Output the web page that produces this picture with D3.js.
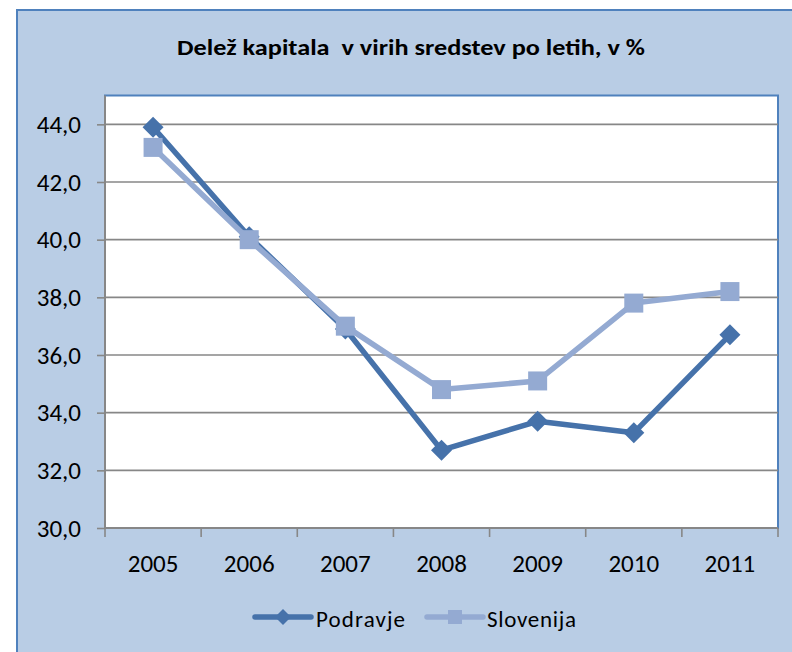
<!DOCTYPE html>
<html>
<head>
<meta charset="utf-8">
<script src="https://cdn.jsdelivr.net/npm/d3@7"></script>
<style>
html,body{margin:0;padding:0;background:#fff;}
svg{display:block;}
text{font-family:Carlito,Lato,"Open Sans",sans-serif;}
</style>
</head>
<body>
<svg id="chart" width="792" height="652"></svg>
<script>
const title = "Delež kapitala  v virih sredstev po letih, v %";
const years = ["2005","2006","2007","2008","2009","2010","2011"];
const podravje = [43.9, 40.1, 36.9, 32.7, 33.7, 33.3, 36.7];
const slovenija = [43.2, 40.0, 37.0, 34.8, 35.1, 37.8, 38.2];
const yTicks = [30, 32, 34, 36, 38, 40, 42, 44];
const seriesNames = ["Podravje", "Slovenija"];

const svg = d3.select("#chart");
const W = 792, H = 652;
const colP = "#4672aa", colS = "#94aad2", gridCol = "#878787", borderCol = "#4f81bd";
const FF = "Carlito,Lato,'Open Sans',sans-serif";

// outer chart area
svg.append("rect").attr("x", 17).attr("y", 10).attr("width", W).attr("height", H)
  .attr("fill", "#b9cde5").attr("stroke", borderCol).attr("stroke-width", 2);

svg.append("text").attr("x", 411).attr("y", 55).attr("text-anchor", "middle")
  .attr("font-size", 23).attr("font-weight", "bold").attr("fill", "#000")
  .attr("textLength", 468).attr("lengthAdjust", "spacingAndGlyphs")
  .style("white-space", "pre").text(title);

const L = 105, R = 778, T = 95.5, B = 528;
const x = d3.scaleBand().domain(years).range([L, R]).padding(0);
const y = d3.scaleLinear().domain([30, 45]).range([B, T]);

// plot area
svg.append("rect").attr("x", L).attr("y", T).attr("width", R - L).attr("height", B - T)
  .attr("fill", "#fff").attr("stroke", borderCol).attr("stroke-width", 2);

// gridlines
svg.append("g").selectAll("line").data(yTicks.filter(d => d > 30)).join("line")
  .attr("x1", L).attr("x2", R).attr("y1", d => y(d)).attr("y2", d => y(d))
  .attr("stroke", gridCol).attr("stroke-width", 1.6);

// y axis
const yAxis = svg.append("g").attr("transform", `translate(${L},0)`)
  .call(d3.axisLeft(y).tickValues(yTicks).tickSize(8).tickPadding(16)
    .tickFormat(d => d3.format(".1f")(d).replace(".", ",")));
yAxis.select(".domain").attr("stroke", gridCol).attr("stroke-width", 2).attr("d", `M-0,${T}V${B}`);
yAxis.selectAll(".tick line").attr("stroke", gridCol).attr("stroke-width", 1.6);
yAxis.selectAll(".tick text").attr("font-size", 25).attr("fill", "#000").style("font-family", FF);

// x axis
const xAxis = svg.append("g").attr("transform", `translate(0,${B})`)
  .call(d3.axisBottom(x).tickSize(0).tickPadding(26));
xAxis.select(".domain").attr("stroke", gridCol).attr("stroke-width", 2).attr("d", `M${L},0H${R}`);
xAxis.selectAll(".tick text").attr("font-size", 25).attr("fill", "#000").style("font-family", FF)
  .attr("y", 44).attr("dy", 0);
const bounds = years.map(d => x(d)).concat([R]);
xAxis.append("g").selectAll("line").data(bounds).join("line")
  .attr("x1", d => d).attr("x2", d => d).attr("y1", 0).attr("y2", 9)
  .attr("stroke", gridCol).attr("stroke-width", 1.6);

const cx = d => x(d) + x.bandwidth() / 2;
const line = d3.line().x((d, i) => cx(years[i])).y(d => y(d));

const diamond = s => `M0,${-s}L${s},0L0,${s}L${-s},0Z`;

// Podravje
svg.append("path").datum(podravje).attr("d", line).attr("fill", "none")
  .attr("stroke", colP).attr("stroke-width", 5.5).attr("stroke-linejoin", "round");
svg.append("g").selectAll("path").data(podravje).join("path")
  .attr("transform", (d, i) => `translate(${cx(years[i])},${y(d)})`)
  .attr("d", diamond(10.5)).attr("fill", colP);

// Slovenija
svg.append("path").datum(slovenija).attr("d", line).attr("fill", "none")
  .attr("stroke", colS).attr("stroke-width", 5.5).attr("stroke-linejoin", "round");
svg.append("g").selectAll("rect").data(slovenija).join("rect")
  .attr("x", (d, i) => cx(years[i]) - 9.5).attr("y", d => y(d) - 9.5)
  .attr("width", 19).attr("height", 19).attr("fill", colS);

// legend
const leg = svg.append("g");
const ly = 617;
leg.append("line").attr("x1", 255).attr("x2", 311).attr("y1", ly).attr("y2", ly)
  .attr("stroke", colP).attr("stroke-width", 5.5).attr("stroke-linecap", "round");
leg.append("path").attr("transform", `translate(283,${ly})`).attr("d", diamond(8)).attr("fill", colP);
leg.append("text").attr("x", 316).attr("y", ly + 10).attr("font-size", 23).attr("fill", "#000")
  .attr("textLength", 89).attr("lengthAdjust", "spacing").text(seriesNames[0]);
leg.append("line").attr("x1", 427).attr("x2", 483).attr("y1", ly).attr("y2", ly)
  .attr("stroke", colS).attr("stroke-width", 5.5).attr("stroke-linecap", "round");
leg.append("rect").attr("x", 455 - 7).attr("y", ly - 7).attr("width", 14).attr("height", 14).attr("fill", colS);
leg.append("text").attr("x", 487).attr("y", ly + 10).attr("font-size", 23).attr("fill", "#000")
  .attr("textLength", 89).attr("lengthAdjust", "spacing").text(seriesNames[1]);
</script>
</body>
</html>
